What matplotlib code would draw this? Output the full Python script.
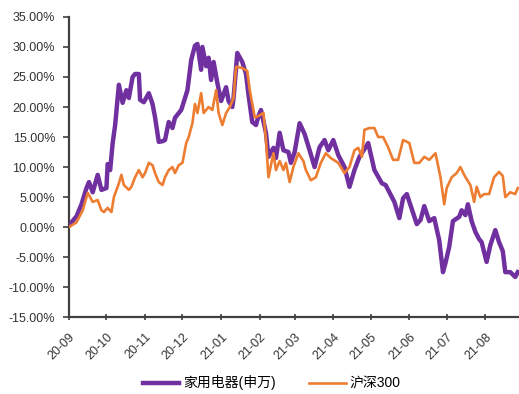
import matplotlib.pyplot as plt
import matplotlib.dates as mdates
import pandas as pd

plt.rcParams['font.family'] = ['Liberation Sans', 'Noto Sans CJK SC', 'DejaVu Sans']

# 累计涨跌幅 (%)
appliance_dates = [
    "2020-09-01", "2020-09-07", "2020-09-11", "2020-09-15", "2020-09-17", "2020-09-20",
    "2020-09-24", "2020-09-27", "2020-10-01", "2020-10-02", "2020-10-04", "2020-10-06",
    "2020-10-08", "2020-10-10", "2020-10-11", "2020-10-14", "2020-10-17", "2020-10-19",
    "2020-10-22", "2020-10-24", "2020-10-27", "2020-10-28", "2020-10-31", "2020-11-04",
    "2020-11-07", "2020-11-09", "2020-11-12", "2020-11-15", "2020-11-17", "2020-11-20",
    "2020-11-23", "2020-11-25", "2020-11-30", "2020-12-02", "2020-12-05", "2020-12-08",
    "2020-12-11", "2020-12-13", "2020-12-16", "2020-12-17", "2020-12-20", "2020-12-22",
    "2020-12-24", "2020-12-26", "2020-12-29", "2021-01-01", "2021-01-05", "2021-01-07",
    "2021-01-10", "2021-01-11", "2021-01-14", "2021-01-18", "2021-01-21", "2021-01-23",
    "2021-01-26", "2021-01-29", "2021-01-31", "2021-02-02", "2021-02-06", "2021-02-08",
    "2021-02-12", "2021-02-14", "2021-02-17", "2021-02-20", "2021-02-24", "2021-02-26",
    "2021-03-01", "2021-03-05", "2021-03-09", "2021-03-13", "2021-03-17", "2021-03-21",
    "2021-03-25", "2021-03-28", "2021-04-01", "2021-04-05", "2021-04-10", "2021-04-14",
    "2021-04-18", "2021-04-22", "2021-04-26", "2021-04-29", "2021-05-04", "2021-05-10",
    "2021-05-13", "2021-05-18", "2021-05-20", "2021-05-24", "2021-05-27", "2021-05-30",
    "2021-06-03", "2021-06-07", "2021-06-10", "2021-06-13", "2021-06-17", "2021-06-21",
    "2021-06-25", "2021-06-28", "2021-06-30", "2021-07-03", "2021-07-06", "2021-07-11",
    "2021-07-13", "2021-07-16", "2021-07-18", "2021-07-21", "2021-07-24", "2021-07-27",
    "2021-07-29", "2021-08-02", "2021-08-05", "2021-08-09", "2021-08-12", "2021-08-15",
    "2021-08-17", "2021-08-21", "2021-08-25", "2021-08-27",
]
appliance = [
    0.3, 1.8, 3.8, 6.5, 7.5, 5.8,
    8.7, 6.2, 6.5, 10.5, 9.5, 14.0,
    17.0, 21.5, 23.7, 20.7, 22.8, 21.5,
    25.0, 25.5, 25.5, 21.2, 20.8, 22.3,
    20.5, 18.3, 14.2, 14.3, 14.5, 17.5,
    16.5, 18.2, 19.5, 20.8, 22.8, 27.8,
    30.2, 30.5, 26.2, 30.0, 26.8, 28.2,
    24.5, 27.5, 24.0, 21.0, 23.3, 21.0,
    20.0, 21.5, 29.0, 27.5, 25.5, 22.0,
    17.5, 17.0, 18.5, 19.5, 15.7, 11.7,
    13.2, 11.5, 15.7, 12.8, 12.5, 10.7,
    12.5, 17.3, 15.5, 12.8, 10.0, 13.3,
    14.5, 12.8, 14.5, 12.0, 10.0, 6.7,
    9.5, 11.7, 13.0, 14.0, 9.5, 7.3,
    7.0, 5.0, 4.2, 1.5, 4.8, 5.5,
    3.0, 0.5, 1.2, 3.5, 1.0, 1.5,
    -2.2, -7.5, -6.0, -3.3, 1.0, 1.7,
    2.8, 2.0, 3.8, 1.0, -0.8, -2.0,
    -2.5, -5.8, -3.0, -0.5, -2.5, -4.0,
    -7.5, -7.5, -8.3, -7.5,
]

hs300_dates = [
    "2020-09-01", "2020-09-07", "2020-09-12", "2020-09-16", "2020-09-20", "2020-09-24",
    "2020-09-27", "2020-09-29", "2020-10-02", "2020-10-05", "2020-10-07", "2020-10-11",
    "2020-10-13", "2020-10-15", "2020-10-19", "2020-10-21", "2020-10-24", "2020-10-27",
    "2020-10-30", "2020-11-01", "2020-11-04", "2020-11-07", "2020-11-09", "2020-11-12",
    "2020-11-15", "2020-11-17", "2020-11-20", "2020-11-23", "2020-11-25", "2020-11-28",
    "2020-12-01", "2020-12-04", "2020-12-06", "2020-12-09", "2020-12-11", "2020-12-13",
    "2020-12-16", "2020-12-18", "2020-12-22", "2020-12-25", "2020-12-28", "2020-12-30",
    "2021-01-02", "2021-01-05", "2021-01-08", "2021-01-11", "2021-01-13", "2021-01-18",
    "2021-01-22", "2021-01-24", "2021-01-28", "2021-01-31", "2021-02-04", "2021-02-06",
    "2021-02-08", "2021-02-12", "2021-02-14", "2021-02-17", "2021-02-20", "2021-02-22",
    "2021-02-25", "2021-02-28", "2021-03-04", "2021-03-08", "2021-03-10", "2021-03-14",
    "2021-03-18", "2021-03-22", "2021-03-26", "2021-03-30", "2021-04-05", "2021-04-10",
    "2021-04-14", "2021-04-18", "2021-04-21", "2021-04-24", "2021-04-26", "2021-04-30",
    "2021-05-04", "2021-05-07", "2021-05-11", "2021-05-15", "2021-05-19", "2021-05-23",
    "2021-05-27", "2021-06-01", "2021-06-05", "2021-06-09", "2021-06-13", "2021-06-17",
    "2021-06-22", "2021-06-26", "2021-06-29", "2021-07-01", "2021-07-05", "2021-07-09",
    "2021-07-12", "2021-07-15", "2021-07-17", "2021-07-20", "2021-07-23", "2021-07-25",
    "2021-07-28", "2021-07-31", "2021-08-04", "2021-08-08", "2021-08-12", "2021-08-15",
    "2021-08-17", "2021-08-21", "2021-08-25", "2021-08-27",
]
hs300 = [
    0.0, 0.8, 2.8, 5.7, 4.2, 4.5,
    2.8, 2.5, 3.2, 2.5, 5.0, 7.3,
    8.7, 7.0, 6.2, 6.7, 8.3, 9.5,
    8.3, 9.0, 10.7, 10.3, 9.0, 7.5,
    7.0, 8.3, 9.5, 10.0, 9.0, 10.3,
    10.7, 14.0, 15.0, 17.3, 20.5, 19.0,
    22.3, 19.0, 20.0, 19.5, 22.8, 19.0,
    17.0, 19.0, 20.0, 21.5, 26.7, 26.5,
    26.0, 22.8, 18.3, 18.5, 19.0, 14.5,
    8.3, 12.3, 9.5, 11.0, 9.5, 10.7,
    7.5, 10.0, 12.3, 11.0, 9.5, 7.8,
    8.3, 10.7, 12.3, 11.5, 10.7, 9.0,
    10.0, 12.8, 13.2, 11.7, 16.2, 16.5,
    16.5, 15.0, 15.0, 13.3, 11.2, 11.2,
    14.5, 14.0, 10.7, 10.7, 11.7, 11.2,
    12.3, 8.3, 3.8, 6.5, 8.3, 9.0,
    10.0, 8.7, 8.0, 7.0, 4.2, 6.7,
    5.0, 5.5, 5.5, 8.3, 9.2, 8.5,
    5.0, 5.8, 5.5, 6.5,
]

month_ticks = pd.date_range("2020-09-01", "2021-08-01", freq="MS")

fig = plt.figure(figsize=(5.19, 3.94), dpi=100)
ax = fig.add_axes([0.133, 0.195, 0.867, 0.762])

ax.plot(pd.to_datetime(appliance_dates), appliance, color="#7030A0", lw=3.2,
        label="家用电器(申万)", solid_joinstyle="round", zorder=3)
ax.plot(pd.to_datetime(hs300_dates), hs300, color="#ED7D31", lw=1.9,
        label="沪深300", solid_joinstyle="round", zorder=4)

ax.set_ylim(-15, 35)
ax.set_yticks(range(-15, 36, 5))
ax.set_yticklabels([f"{v:.2f}%" for v in range(-15, 36, 5)], fontsize=9, color="#333333")
ax.set_xlim(pd.Timestamp("2020-09-01"), pd.Timestamp("2021-08-28"))
ax.set_xticks(month_ticks)
ax.xaxis.set_major_formatter(mdates.DateFormatter("%y-%m"))
for lab in ax.get_xticklabels():
    lab.set_rotation(45)
    lab.set_ha("right")
    lab.set_rotation_mode("anchor")
    lab.set_fontsize(9)
    lab.set_color("#333333")

for side in ["top", "right"]:
    ax.spines[side].set_visible(False)
for side in ["left", "bottom"]:
    ax.spines[side].set_color("#404040")
    ax.spines[side].set_linewidth(1.6)
ax.tick_params(axis="y", length=4, width=1.2, color="#404040", pad=6)
ax.tick_params(axis="x", length=4, width=1.2, color="#404040", direction="inout", pad=8)

fig.legend(*ax.get_legend_handles_labels(), loc="center", bbox_to_anchor=(0.524, 0.028),
           ncol=2, frameon=False, fontsize=10, handlelength=2.6, columnspacing=2.4,
           handletextpad=0.3)

fig.savefig("out.png", dpi=100)
